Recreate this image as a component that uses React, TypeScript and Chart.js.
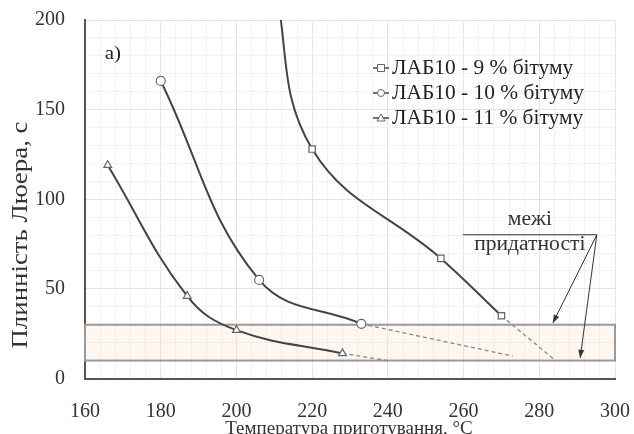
import React, { useEffect, useRef } from "react";
import { Chart, registerables } from "chart.js";

Chart.register(...registerables);

// ---- data ----
const temp9 = [210, 220, 254, 270];
const flow9 = [222, 128, 67, 35];
const temp10 = [180, 206, 233];
const flow10 = [166, 55, 30.5];
const temp11 = [166, 187, 200, 228];
const flow11 = [119, 46, 27, 14];

const extTemp9 = [270, 284];
const extFlow9 = [35, 10.5];
const extTemp10 = [233, 273];
const extFlow10 = [30.5, 12.5];
const extTemp11 = [228, 240];
const extFlow11 = [14, 10];

const seriesLabels = ["ЛАБ10 - 9 % бітуму", "ЛАБ10 - 10 % бітуму", "ЛАБ10 - 11 % бітуму"];
const seriesMarkers = ["rect", "circle", "triangle"];

const limitLow = 10;
const limitHigh = 30;

const xTicksMajor = [160, 180, 200, 220, 240, 260, 280, 300];
const yTicksMajor = [0, 50, 100, 150, 200];

const xTitle = "Температура приготування, °C";
const yTitle = "Плинність Люера, с";
const panelLabel = "а)";
const limitText1 = "межі";
const limitText2 = "придатності";

const FONT = "'Liberation Serif', 'Times New Roman', serif";
const LINE = "#444";
const MARK = "#666";

const zip = (xs: number[], ys: number[]) => xs.map((x, i) => ({ x, y: ys[i] }));

function arrow(ctx: CanvasRenderingContext2D, x1: number, y1: number, x2: number, y2: number) {
  ctx.beginPath();
  ctx.moveTo(x1, y1);
  ctx.lineTo(x2, y2);
  ctx.stroke();
  const a = Math.atan2(y2 - y1, x2 - x1);
  const L = 8, W = 3;
  ctx.beginPath();
  ctx.moveTo(x2, y2);
  ctx.lineTo(x2 - L * Math.cos(a) + W * Math.sin(a), y2 - L * Math.sin(a) - W * Math.cos(a));
  ctx.lineTo(x2 - L * Math.cos(a) - W * Math.sin(a), y2 - L * Math.sin(a) + W * Math.cos(a));
  ctx.closePath();
  ctx.fill();
}

function stretchedText(ctx: CanvasRenderingContext2D, text: string, x: number, y: number, sx: number) {
  ctx.save();
  ctx.translate(x, y);
  ctx.scale(sx, 1);
  ctx.fillText(text, 0, 0);
  ctx.restore();
}

const decorPlugin = {
  id: "decor",
  beforeDatasetsDraw(chart: any) {
    const { ctx, scales } = chart;
    const xs = scales.x, ys = scales.y;
    const l = xs.getPixelForValue(160), r = xs.getPixelForValue(300);
    const t = ys.getPixelForValue(limitHigh), b = ys.getPixelForValue(limitLow);
    ctx.save();
    ctx.fillStyle = "rgba(250,228,205,0.28)";
    ctx.fillRect(l, t, r - l, b - t);
    ctx.strokeStyle = "#9a9a9a";
    ctx.lineWidth = 2;
    ctx.strokeRect(l, t, r - l, b - t);
    ctx.restore();
  },
  afterDraw(chart: any) {
    const { ctx, scales, chartArea } = chart;
    const xs = scales.x, ys = scales.y;
    const px = (v: number) => xs.getPixelForValue(v);
    const py = (v: number) => ys.getPixelForValue(v);
    ctx.save();
    // axis titles
    ctx.fillStyle = "#333";
    ctx.font = `19px ${FONT}`;
    ctx.textAlign = "center";
    ctx.textBaseline = "middle";
    ctx.fillText(xTitle, (chartArea.left + chartArea.right) / 2 - 1, 429);
    ctx.save();
    ctx.translate(21, 235);
    ctx.rotate(-Math.PI / 2);
    ctx.font = `24px ${FONT}`;
    ctx.scale(1.12, 1);
    ctx.fillText(yTitle, 0, 0);
    ctx.restore();

    // panel label
    ctx.fillStyle = "#222";
    ctx.font = `19px ${FONT}`;
    ctx.textAlign = "left";
    ctx.textBaseline = "alphabetic";
    stretchedText(ctx, panelLabel, px(165.2), py(178), 1.1);

    // legend
    const lx = 373, rows = [68, 93, 118];
    chart.data.datasets.slice(0, 3).forEach((ds: any, i: number) => {
      const y = rows[i];
      ctx.strokeStyle = LINE;
      ctx.lineWidth = 1.5;
      ctx.beginPath();
      ctx.moveTo(lx, y);
      ctx.lineTo(lx + 16, y);
      ctx.stroke();
      ctx.fillStyle = "#fff";
      ctx.strokeStyle = MARK;
      ctx.lineWidth = 1;
      const s = seriesMarkers[i];
      const cx = lx + 8;
      ctx.beginPath();
      if (s === "rect") {
        ctx.rect(cx - 3.5, y - 3.5, 7, 7);
      } else if (s === "circle") {
        ctx.arc(cx, y, 3.5, 0, Math.PI * 2);
      } else {
        ctx.moveTo(cx, y - 4);
        ctx.lineTo(cx + 4, y + 3);
        ctx.lineTo(cx - 4, y + 3);
        ctx.closePath();
      }
      ctx.fill();
      ctx.stroke();
      ctx.fillStyle = "#222";
      ctx.font = `20px ${FONT}`;
      ctx.textAlign = "left";
      ctx.textBaseline = "middle";
      stretchedText(ctx, ds.label, lx + 19, y + 1, 1.07);
    });

    // limits annotation
    ctx.fillStyle = "#333";
    ctx.font = `20px ${FONT}`;
    ctx.textAlign = "center";
    ctx.textBaseline = "middle";
    stretchedText(ctx, limitText1, px(277.5), py(88.5), 1.08);
    stretchedText(ctx, limitText2, px(277.5), py(74.5), 1.08);
    ctx.strokeStyle = "#333";
    ctx.lineWidth = 1;
    const ax = px(295.2), ay = py(80.2);
    ctx.beginPath();
    ctx.moveTo(px(259.8), ay);
    ctx.lineTo(ax, ay);
    ctx.stroke();
    ctx.fillStyle = "#333";
    arrow(ctx, ax, ay, px(283.6), py(31));
    arrow(ctx, ax, ay, px(290.8), py(11.5));
    ctx.restore();
  },
};

export default function App() {
  const ref = useRef<HTMLCanvasElement>(null);
  useEffect(() => {
    if (!ref.current) return;
    const mainDs = (xs: number[], ys: number[], i: number) => ({
      label: seriesLabels[i],
      data: zip(xs, ys),
      borderColor: LINE,
      borderWidth: 2,
      pointStyle: seriesMarkers[i],
      pointRadius: 4.5,
      pointBackgroundColor: "#fff",
      pointBorderColor: MARK,
      pointBorderWidth: 1.2,
      tension: 0.4,
      fill: false,
      order: 1,
    });
    const extDs = (xs: number[], ys: number[]) => ({
      label: "",
      data: zip(xs, ys),
      borderColor: "#8a8a8a",
      borderWidth: 1.3,
      borderDash: [4, 3],
      pointRadius: 0,
      fill: false,
      order: 2,
    });
    const chart = new Chart(ref.current, {
      type: "line",
      data: {
        datasets: [
          mainDs(temp9, flow9, 0),
          mainDs(temp10, flow10, 1),
          mainDs(temp11, flow11, 2),
          extDs(extTemp9, extFlow9),
          extDs(extTemp10, extFlow10),
          extDs(extTemp11, extFlow11),
        ] as any,
      },
      options: {
        animation: false,
        responsive: false,
        layout: { padding: { top: 20, right: 19, left: 0, bottom: 0 } },
        plugins: { legend: { display: false }, tooltip: { enabled: false } },
        scales: {
          x: {
            type: "linear",
            min: 160,
            max: 300,
            afterFit: (s: any) => {
              s.height = 55.5;
              s.paddingLeft = 0;
              s.paddingRight = 0;
            },
            ticks: {
              stepSize: 4,
              autoSkip: false,
              maxRotation: 0,
              padding: 21,
              color: "#333",
              font: { family: FONT, size: 20 },
              callback: (v: any) => (xTicksMajor.includes(Number(v)) ? String(v) : ""),
            },
            grid: {
              drawTicks: false,
              color: (c: any) => (Number(c.tick?.value) % 20 === 0 ? "#e4e4e4" : "#f2f2f2"),
              lineWidth: 1,
            },
            border: { color: "#555", width: 2 },
          },
          y: {
            type: "linear",
            min: 0,
            max: 200,
            afterFit: (s: any) => {
              s.width = 85;
              s.paddingTop = 0;
              s.paddingBottom = 0;
            },
            ticks: {
              stepSize: 10,
              autoSkip: false,
              padding: 20,
              color: "#333",
              font: { family: FONT, size: 20 },
              callback: (v: any) => (yTicksMajor.includes(Number(v)) ? String(v) : ""),
            },
            grid: {
              drawTicks: false,
              color: (c: any) => (Number(c.tick?.value) % 50 === 0 ? "#e4e4e4" : "#f2f2f2"),
              lineWidth: 1,
            },
            border: { color: "#555", width: 2 },
          },
        },
      },
      plugins: [decorPlugin],
    });
    return () => chart.destroy();
  }, []);
  return (
    <canvas
      ref={ref}
      width={634}
      height={434}
      style={{ position: "absolute", left: 0, top: 0, width: 634, height: 434, background: "#fff" }}
    />
  );
}
